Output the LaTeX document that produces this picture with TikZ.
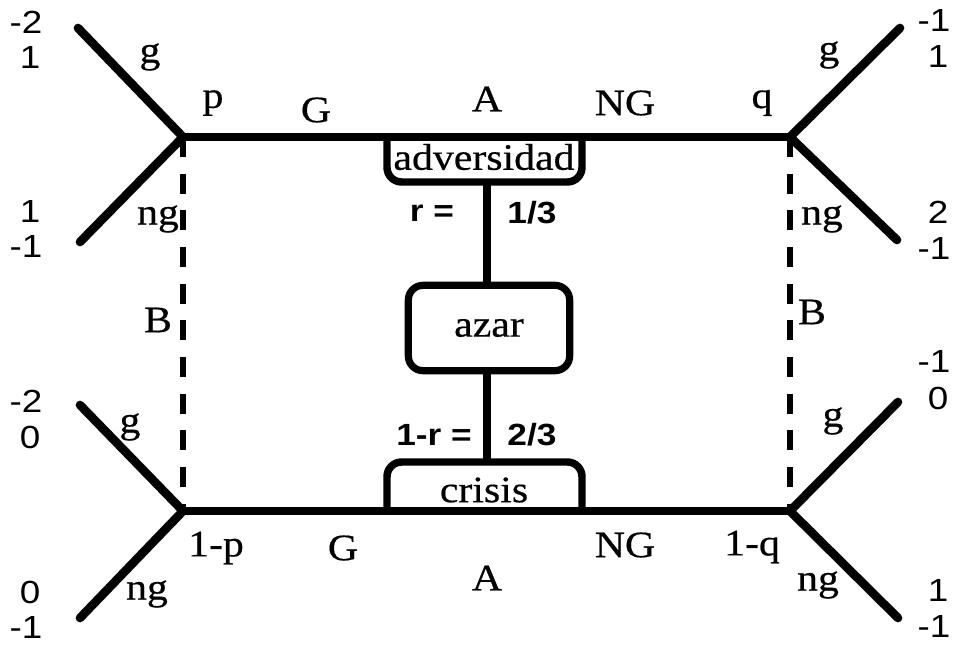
\documentclass[tikz,border=0pt]{standalone}
\usepackage{fontspec}
\setmainfont[FakeStretch=1.12,FakeBold=0.5]{Liberation Serif}
\newfontfamily\numf[FakeStretch=1.15]{Liberation Sans}
\begin{document}
\begin{tikzpicture}[x=0.75pt,y=-0.75pt,
  thk/.style={line width=6.5pt, line cap=round, line join=round},
  boxline/.style={line width=5.6pt, rounded corners=11pt},
  dsh/.style={line width=3.8pt, dash pattern=on 15pt off 12.5pt},
  lab/.style={font=\fontsize{28}{30}\selectfont, inner sep=0pt},
  num/.style={font=\numf\fontsize{24}{26}\selectfont, inner sep=0pt},
  prob/.style={font=\numf\bfseries\fontsize{23}{26}\selectfont, inner sep=0pt}]
\useasboundingbox (0,0) rectangle (956,646);
% junctions
\coordinate (p) at (183,137);
\coordinate (q) at (790,137);
\coordinate (lp) at (183,511);
\coordinate (lq) at (790,511);
% branch ends
\coordinate (tlg) at (78,28);
\coordinate (tlng) at (80,242);
\coordinate (trg) at (900,28);
\coordinate (trng) at (897,240);
\coordinate (blg) at (80,405);
\coordinate (blng) at (80,618);
\coordinate (brg) at (898,402);
\coordinate (brng) at (898,618);
% main lines
\draw[thk] (tlg) -- (p) -- (tlng);
\draw[thk] (trg) -- (q) -- (trng);
\draw[thk] (blg) -- (lp) -- (blng);
\draw[thk] (brg) -- (lq) -- (brng);
\draw[thk] (p) -- (q);
\draw[thk] (lp) -- (lq);
\draw[dsh] (p) -- (lp);
\draw[dsh] (q) -- (lq);
% adversidad
\draw[boxline] (387,137) -- (387,182) -- (582,182) -- (582,137);
\node[lab] (adv) at (484,157) {adversidad};
\coordinate (advb) at (487,182);
% azar
\node[lab, draw, line width=5.4pt, rounded corners=11pt, minimum width=121pt, minimum height=64pt] (azar) at (489,328) {azar};
% crisis
\draw[boxline] (387,511) -- (387,462) -- (582,462) -- (582,511);
\node[lab] (cri) at (484,490) {crisis};
\coordinate (crit) at (487,462);
% chance connectors
\draw[line width=5.6pt] (advb) -- (advb |- azar.north);
\draw[line width=5.6pt] (crit |- azar.south) -- (crit);
% probabilities
\node[prob] (r) at (432,213) {r =};
\node[prob] (r1) at (532,213) {1/3};
\node[prob] (r2) at (434,435) {1-r =};
\node[prob] (r3) at (532,435) {2/3};
% serif labels
\node[lab] (l1) at (150,57) {g};
\node[lab] (l2) at (213,103) {p};
\node[lab] (l3) at (158,219) {ng};
\node[lab] (l4) at (316,110) {G};
\node[lab] (l5) at (487,99) {A};
\node[lab] (l6) at (625,103) {NG};
\node[lab] (l7) at (762,103) {q};
\node[lab] (l8) at (829,55) {g};
\node[lab] (l9) at (822,219) {ng};
\node[lab] (l10) at (158,320) {B};
\node[lab] (l11) at (812,312) {B};
\node[lab] (l12) at (130,427) {g};
\node[lab] (l13) at (216,548) {1-p};
\node[lab] (l14) at (147,594) {ng};
\node[lab] (l15) at (343,548) {G};
\node[lab] (l16) at (487,578) {A};
\node[lab] (l17) at (625,545) {NG};
\node[lab] (l18) at (752,547) {1-q};
\node[lab] (l19) at (833,421) {g};
\node[lab] (l20) at (818,585) {ng};
% payoffs
\node[num] (n1) at (26,22) {-2};
\node[num] (n2) at (30,57) {1};
\node[num] (n3) at (30,211) {1};
\node[num] (n4) at (26,246) {-1};
\node[num] (n5) at (26,401) {-2};
\node[num] (n6) at (30,437) {0};
\node[num] (n7) at (30,592) {0};
\node[num] (n8) at (26,627) {-1};
\node[num] (n9) at (934,20) {-1};
\node[num] (n10) at (938,56) {1};
\node[num] (n11) at (938,212) {2};
\node[num] (n12) at (934,248) {-1};
\node[num] (n13) at (934,361) {-1};
\node[num] (n14) at (938,398) {0};
\node[num] (n15) at (938,590) {1};
\node[num] (n16) at (934,626) {-1};
\end{tikzpicture}
\end{document}
